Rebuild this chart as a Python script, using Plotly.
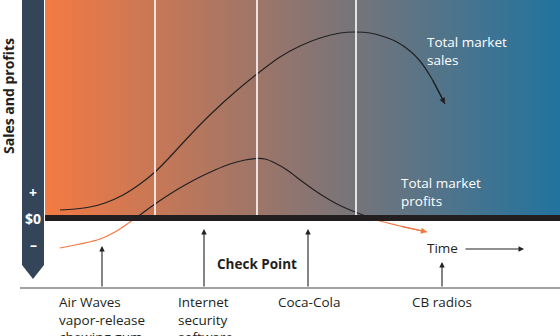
import plotly.graph_objects as go

# ---------------- data (x = time position, y = $ value relative to $0) -------------
sales_x = [60, 75, 90, 105, 123, 140, 155, 167, 180, 195, 213, 235, 257, 280, 300,
           320, 340, 355, 370, 385, 397, 410, 420, 432, 445]
sales_y = [8, 9, 11, 15, 23, 34, 46, 58, 72, 88, 106, 126, 144, 161, 172,
           180, 185, 186, 185, 181, 176, 167, 157, 139, 114]

profit_x = [60, 80, 100, 115, 130, 140, 155, 170, 185, 200, 215, 230, 245, 257,
            265, 275, 287, 303, 320, 337, 350, 363, 377, 400, 427]
profit_y = [-30, -26, -21, -14, -4, 3, 14, 24, 33, 41, 48, 54, 58, 59.5,
            59, 55, 48, 36, 24, 14, 8, 3, -2, -8, -14]

stage_bounds = [155, 257, 356]

products = [["Air Waves", "vapor-release", "chewing gum"],
            ["Internet", "security", "software"],
            ["Coca-Cola"],
            ["CB radios"]]
product_x = [102, 204, 308, 442]
product_tip = [-28, -11, -11, -44]
product_label_x = [58, 177, 277, 411]

sales_label = ["Total market", "sales"]
profit_label = ["Total market", "profits"]

axis_ticks = ["+", "$0", "\u2013"]
axis_tick_y = [26, 0, -26]

# ---------------- layout constants ----------------
Y_TOP, Y_BOT = 218, -118
BASE = -70
FS = 13.5
LINE_H = 1.3 * FS
FONT = "Open Sans"
DARK = "#34455a"
INK = "#231f20"

fig = go.Figure()

# gradient background
fig.add_trace(go.Scatter(
    x=[45, 560, 560, 45, 45], y=[3, 3, Y_TOP, Y_TOP, 3],
    mode="lines", line=dict(width=0), fill="toself",
    fillgradient=dict(type="horizontal",
                      colorscale=[[0, "#f47a43"], [0.45, "#96756c"], [1, "#21739f"]]),
    hoverinfo="skip", showlegend=False))

# left dark axis bar with pointed bottom
fig.add_trace(go.Scatter(
    x=[22, 44, 44, 33, 22, 22], y=[Y_TOP, Y_TOP, -47, -61, -47, Y_TOP],
    mode="lines", line=dict(width=0), fill="toself", fillcolor=DARK,
    hoverinfo="skip", showlegend=False))

# stage boundary lines
for b in stage_bounds:
    fig.add_shape(type="line", x0=b, x1=b, y0=3, y1=Y_TOP,
                  line=dict(color="white", width=1.6), layer="above")

# sales curve
fig.add_trace(go.Scatter(x=sales_x, y=sales_y, mode="lines",
                         line=dict(color="#222222", width=1.2, shape="spline", smoothing=1),
                         hoverinfo="skip", showlegend=False))


# profit curve split by sign
def split_by_sign(xs, ys):
    segs = []
    cur = [[xs[0]], [ys[0]], ys[0] >= 0]
    for i in range(1, len(xs)):
        x0, y0, x1, y1 = xs[i - 1], ys[i - 1], xs[i], ys[i]
        if (y0 >= 0) != (y1 >= 0):
            xc = x0 + (x1 - x0) * (0 - y0) / (y1 - y0)
            cur[0].append(xc); cur[1].append(0)
            segs.append(cur)
            cur = [[xc], [0], y1 >= 0]
        cur[0].append(x1); cur[1].append(y1)
    segs.append(cur)
    return segs


for sx, sy, pos in split_by_sign(profit_x, profit_y):
    fig.add_trace(go.Scatter(x=sx, y=sy, mode="lines",
                             line=dict(color="#222222" if pos else "#f4773f", width=1.2,
                                       shape="spline", smoothing=1),
                             hoverinfo="skip", showlegend=False))

# $0 thick bar
fig.add_shape(type="rect", x0=45, x1=560, y0=-3, y1=3,
              fillcolor=INK, line=dict(width=0), layer="above")

# baseline
fig.add_shape(type="line", x0=20, x1=560, y0=BASE, y1=BASE,
              line=dict(color="#444444", width=1))

ann = []
# arrowheads on curves
ann.append(dict(x=sales_x[-1], y=sales_y[-1], ax=sales_x[-2], ay=sales_y[-2],
                axref="x", ayref="y", xref="x", yref="y", text="",
                showarrow=True, arrowhead=2, arrowsize=1, arrowwidth=1.2,
                arrowcolor="#222222", standoff=0))
ann.append(dict(x=profit_x[-1], y=profit_y[-1], ax=profit_x[-2], ay=profit_y[-2],
                axref="x", ayref="y", xref="x", yref="y", text="",
                showarrow=True, arrowhead=2, arrowsize=1, arrowwidth=1.2,
                arrowcolor="#f4773f", standoff=0))


def text_block(lines, x, y_first, color, bold=False, anchor="left"):
    yc = y_first - (len(lines) - 1) * LINE_H / 2
    txt = "<br>".join(("<b>%s</b>" % t) if bold else t for t in lines)
    ann.append(dict(x=x, y=yc, xref="x", yref="y", text=txt, align="left",
                    showarrow=False, xanchor=anchor, yanchor="middle", borderpad=0,
                    font=dict(family=FONT, size=FS, color=color)))


# product arrows and labels
for lines, px, tip, lx in zip(products, product_x, product_tip, product_label_x):
    ann.append(dict(x=px, y=tip, ax=px, ay=BASE, axref="x", ayref="y",
                    xref="x", yref="y", text="", showarrow=True, arrowhead=2,
                    arrowsize=1, arrowwidth=1.1, arrowcolor="#222222", standoff=0))
    text_block(lines, lx, -84, INK)

# time arrow
ann.append(dict(x=524, y=-31, ax=464, ay=-31, axref="x", ayref="y", xref="x", yref="y",
                text="", showarrow=True, arrowhead=2, arrowsize=1, arrowwidth=1.1,
                arrowcolor="#222222", standoff=0))
text_block(["Time"], 426, -30, INK)
text_block(["Check Point"], 257, -46, INK, bold=True, anchor="center")

text_block(sales_label, 426, 176, "white")
text_block(profit_label, 400, 35, "white")

for t, ty in zip(axis_ticks, axis_tick_y):
    ann.append(dict(x=33, y=ty, xref="x", yref="y", text="<b>%s</b>" % t,
                    showarrow=False, xanchor="center", yanchor="middle",
                    font=dict(family=FONT, size=14, color="white")))

ann.append(dict(x=8, y=122, xref="x", yref="y", text="<b>Sales and profits</b>",
                textangle=-90, showarrow=False, xanchor="center", yanchor="middle",
                font=dict(family=FONT, size=14, color=INK)))

fig.update_layout(
    width=560, height=336, margin=dict(l=0, r=0, t=0, b=0),
    paper_bgcolor="white", plot_bgcolor="white",
    xaxis=dict(range=[0, 560], visible=False, fixedrange=True),
    yaxis=dict(range=[Y_BOT, Y_TOP], visible=False, fixedrange=True),
    annotations=ann, showlegend=False)

fig.write_html("out.html")
